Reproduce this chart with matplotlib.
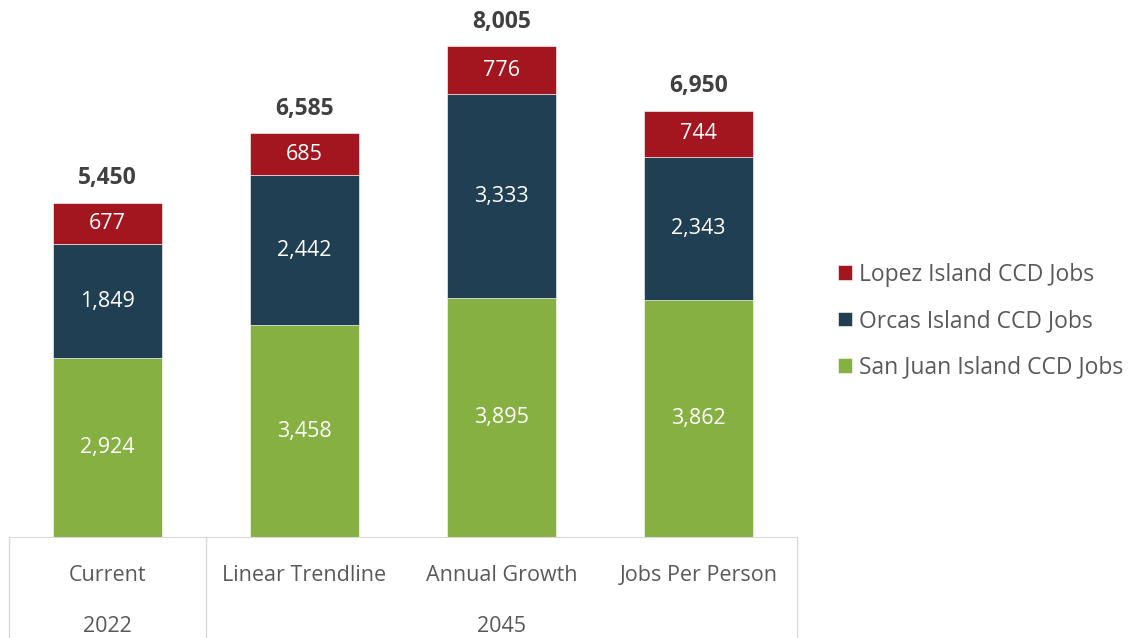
import numpy as np
import matplotlib
matplotlib.use('Agg')
import matplotlib.pyplot as plt
import matplotlib.transforms as mtransforms

plt.rcParams['font.family'] = ['Open Sans', 'DejaVu Sans']

categories = ['Current', 'Linear Trendline', 'Annual Growth', 'Jobs Per Person']
groups = ['2022', '2045']
group_spans = [(0, 0), (1, 3)]
san_juan = [2924, 3458, 3895, 3862]
orcas = [1849, 2442, 3333, 2343]
lopez = [677, 685, 776, 744]
totals = [5450, 6585, 8005, 6950]

series = [('San Juan Island CCD Jobs', san_juan, '#86B142'),
          ('Orcas Island CCD Jobs', orcas, '#213F53'),
          ('Lopez Island CCD Jobs', lopez, '#A4161F')]

fig = plt.figure(figsize=(11.31, 6.38), dpi=100)
ax = fig.add_axes([9/1131, 101/638, 788/1131, 537/638])

x = np.arange(len(categories))
bottom = np.zeros(len(categories))
handles = []
for name, vals, col in series:
    b = ax.bar(x, vals, width=0.558, bottom=bottom, color=col, label=name,
               edgecolor='white', linewidth=0.4)
    handles.append(b)
    for xi, v, bt in zip(x, vals, bottom):
        ax.text(xi, bt + v / 2, f'{v:,}', ha='center', va='center',
                color='white', fontsize=15.5)
    bottom += np.array(vals)

for xi, t in zip(x, totals):
    ax.text(xi, t + 400, f'{t:,}', ha='center', va='center',
            color='#404040', fontsize=16.5, fontweight='bold')

ax.set_xlim(-0.5, len(categories) - 0.5)
ax.set_ylim(0, 8760)
ax.set_yticks([])
ax.set_xticks([])
for s in ['top', 'right', 'left']:
    ax.spines[s].set_visible(False)
ax.spines['bottom'].set_color('#D9D9D9')

# multi-level category axis
trans = mtransforms.blended_transform_factory(ax.transData, ax.transAxes)
for xi, c in zip(x, categories):
    ax.text(xi, -0.072, c, transform=trans, ha='center', va='center',
            color='#595959', fontsize=15.5)
for g, (a, b) in zip(groups, group_spans):
    ax.text((a + b) / 2, -0.166, g, transform=trans, ha='center', va='center',
            color='#595959', fontsize=15.5)
for xv in [-0.5, 0.5, len(categories) - 0.5]:
    ax.plot([xv, xv], [0, -0.19], transform=trans, color='#D9D9D9',
            lw=1, clip_on=False)

leg = fig.legend(handles[::-1], [s[0] for s in series][::-1],
                 loc='center left', bbox_to_anchor=(838/1131, 1 - 321/638),
                 frameon=False, fontsize=16.5, handlelength=0.62,
                 handleheight=0.62, handletextpad=0.3, labelspacing=0.98,
                 borderpad=0, borderaxespad=0)
for t in leg.get_texts():
    t.set_color('#595959')

fig.savefig('out.png', dpi=100)
